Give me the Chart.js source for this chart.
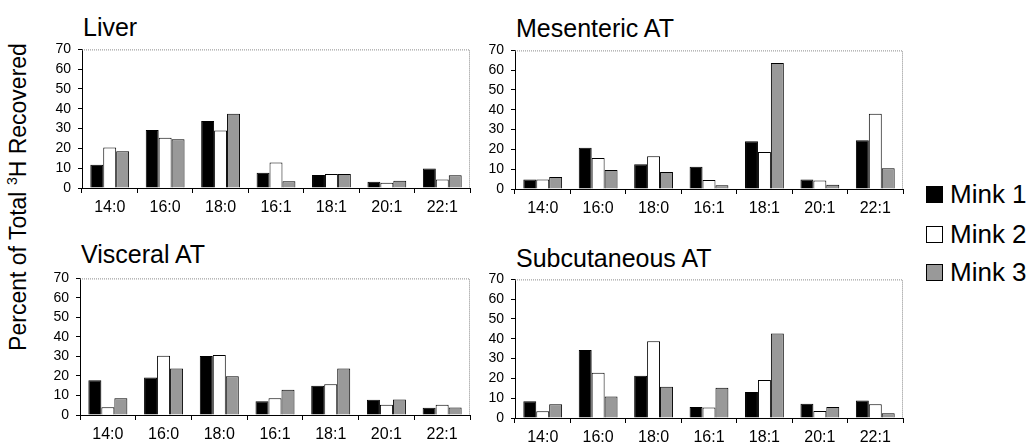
<!DOCTYPE html>
<html>
<head>
<meta charset="utf-8">
<script src="https://cdn.jsdelivr.net/npm/chart.js@4"></script>
<style>
  body { margin: 0; background: #fff; }
  #wrap { position: relative; width: 1031px; height: 444px; overflow: hidden;
          font-family: "Liberation Sans", Arial, sans-serif; color: #000; }
  canvas { position: absolute; }
  .title { position: absolute; font-size: 25px; line-height: 1; white-space: nowrap; }
  .ylab { position: absolute; left: 18px; top: 197px; font-size: 23px; white-space: nowrap;
          transform: translate(-50%, -50%) rotate(-90deg); }
  .ylab sup { font-size: 14px; }
  .leg { position: absolute; left: 926px; font-size: 26px; line-height: 1; white-space: nowrap; }
  .leg span { display: inline-block; width: 15px; height: 15px; border: 1px solid #000;
              vertical-align: 0px; margin-right: 7px; }
</style>
</head>
<body>
<div id="wrap">
  <div class="ylab">Percent of Total <sup>3</sup>H Recovered</div>

  <div class="title" style="left:83px; top:15px;">Liver</div>
  <div class="title" style="left:516px; top:16px;">Mesenteric AT</div>
  <div class="title" style="left:81px; top:242px;">Visceral AT</div>
  <div class="title" style="left:516px; top:246px;">Subcutaneous AT</div>

  <canvas id="liver"></canvas>
  <canvas id="mesenteric"></canvas>
  <canvas id="visceral"></canvas>
  <canvas id="subcutaneous"></canvas>

  <div class="leg" style="top:181px;"><span style="background:#000"></span>Mink 1</div>
  <div class="leg" style="top:221px;"><span style="background:#fff"></span>Mink 2</div>
  <div class="leg" style="top:259px;"><span style="background:#999"></span>Mink 3</div>
</div>

<script>
// fatty acids on the x axis
var categories = ["14:0", "16:0", "18:0", "16:1", "18:1", "20:1", "22:1"];
var seriesNames = ["Mink 1", "Mink 2", "Mink 3"];
var yTicks = [0, 10, 20, 30, 40, 50, 60, 70];

// values (% of total 3H recovered)
var liverMink1 = [11.7, 29.3, 33.8, 7.7, 6.6, 3.2, 9.8];
var liverMink2 = [20.4, 25.4, 29.1, 12.9, 7.1, 2.7, 4.3];
var liverMink3 = [18.5, 24.6, 37.5, 3.4, 7.1, 3.7, 6.4];

var mesentericMink1 = [4.8, 20.8, 12.5, 11.2, 24.1, 4.8, 24.6];
var mesentericMink2 = [4.8, 15.7, 16.6, 4.5, 18.7, 4.3, 38.0];
var mesentericMink3 = [6.1, 9.6, 8.6, 1.9, 63.6, 2.1, 10.5];

var visceralMink1 = [17.8, 19.2, 30.2, 7.0, 15.0, 7.8, 3.7];
var visceralMink2 = [4.0, 30.4, 30.7, 8.6, 15.8, 5.2, 5.2];
var visceralMink3 = [8.6, 23.8, 19.9, 12.9, 23.8, 7.9, 3.9];

var subcutMink1 = [8.5, 34.4, 21.3, 5.6, 13.1, 7.2, 8.8];
var subcutMink2 = [3.4, 22.9, 38.7, 5.3, 19.2, 3.5, 6.9];
var subcutMink3 = [7.0, 10.9, 15.8, 15.3, 42.7, 5.6, 2.4];

var barColors = ["#000000", "#ffffff", "#999999"];

Chart.defaults.font.family = "'Liberation Sans', Arial, sans-serif";
Chart.defaults.color = "#000";

// dotted top and right frame like the original plot area
var dottedFrame = {
  id: "dottedFrame",
  afterDraw: function(chart) {
    var a = chart.chartArea, ctx = chart.ctx;
    ctx.save();
    ctx.strokeStyle = "#8a8a8a";
    ctx.lineWidth = 1;
    ctx.setLineDash([1, 1]);
    ctx.beginPath();
    ctx.moveTo(a.left, a.top + 0.5);
    ctx.lineTo(a.right - 0.5, a.top + 0.5);
    ctx.lineTo(a.right - 0.5, a.bottom);
    ctx.stroke();
    ctx.restore();
  }
};

var yAxisWidth = 44;
var xAxisHeight = 34;
var padTop = 8, padRight = 10;

function makePanel(id, area, m1, m2, m3) {
  var canvas = document.getElementById(id);
  var left = area.left - yAxisWidth;
  var top = area.top - padTop;
  canvas.width = area.right - left + padRight;
  canvas.height = area.bottom - top + xAxisHeight;
  canvas.style.left = left + "px";
  canvas.style.top = top + "px";

  var values = [m1, m2, m3];
  new Chart(canvas, {
    type: "bar",
    data: {
      labels: categories,
      datasets: seriesNames.map(function(name, i) {
        return {
          label: name,
          data: values[i],
          backgroundColor: barColors[i],
          borderColor: "#000",
          borderWidth: 1,
          categoryPercentage: 0.7,
          barPercentage: 1.0
        };
      })
    },
    options: {
      responsive: false,
      animation: false,
      devicePixelRatio: 1,
      layout: { padding: { top: padTop, right: padRight, left: 0, bottom: 0 } },
      plugins: { legend: { display: false }, tooltip: { enabled: false } },
      scales: {
        x: {
          afterFit: function(s) { s.height = xAxisHeight; },
          grid: { drawOnChartArea: false, color: "#000", tickLength: 5, offset: true },
          border: { color: "#000", width: 1 },
          ticks: { font: { size: 16 }, padding: 5, maxRotation: 0, autoSkip: false }
        },
        y: {
          min: 0,
          max: 70,
          afterFit: function(s) { s.width = yAxisWidth; },
          afterBuildTicks: function(s) { s.ticks = yTicks.map(function(v) { return { value: v }; }); },
          grid: { drawOnChartArea: false, color: "#000", tickLength: 4 },
          border: { color: "#000", width: 1 },
          ticks: { font: { size: 14 }, padding: 7, autoSkip: false }
        }
      }
    },
    plugins: [dottedFrame]
  });
}

makePanel("liver", { left: 82, top: 42, right: 470, bottom: 188 }, liverMink1, liverMink2, liverMink3);
makePanel("mesenteric", { left: 515, top: 43, right: 903, bottom: 189 }, mesentericMink1, mesentericMink2, mesentericMink3);
makePanel("visceral", { left: 80, top: 271, right: 470, bottom: 415 }, visceralMink1, visceralMink2, visceralMink3);
makePanel("subcutaneous", { left: 515, top: 272, right: 903, bottom: 418 }, subcutMink1, subcutMink2, subcutMink3);
</script>
</body>
</html>
